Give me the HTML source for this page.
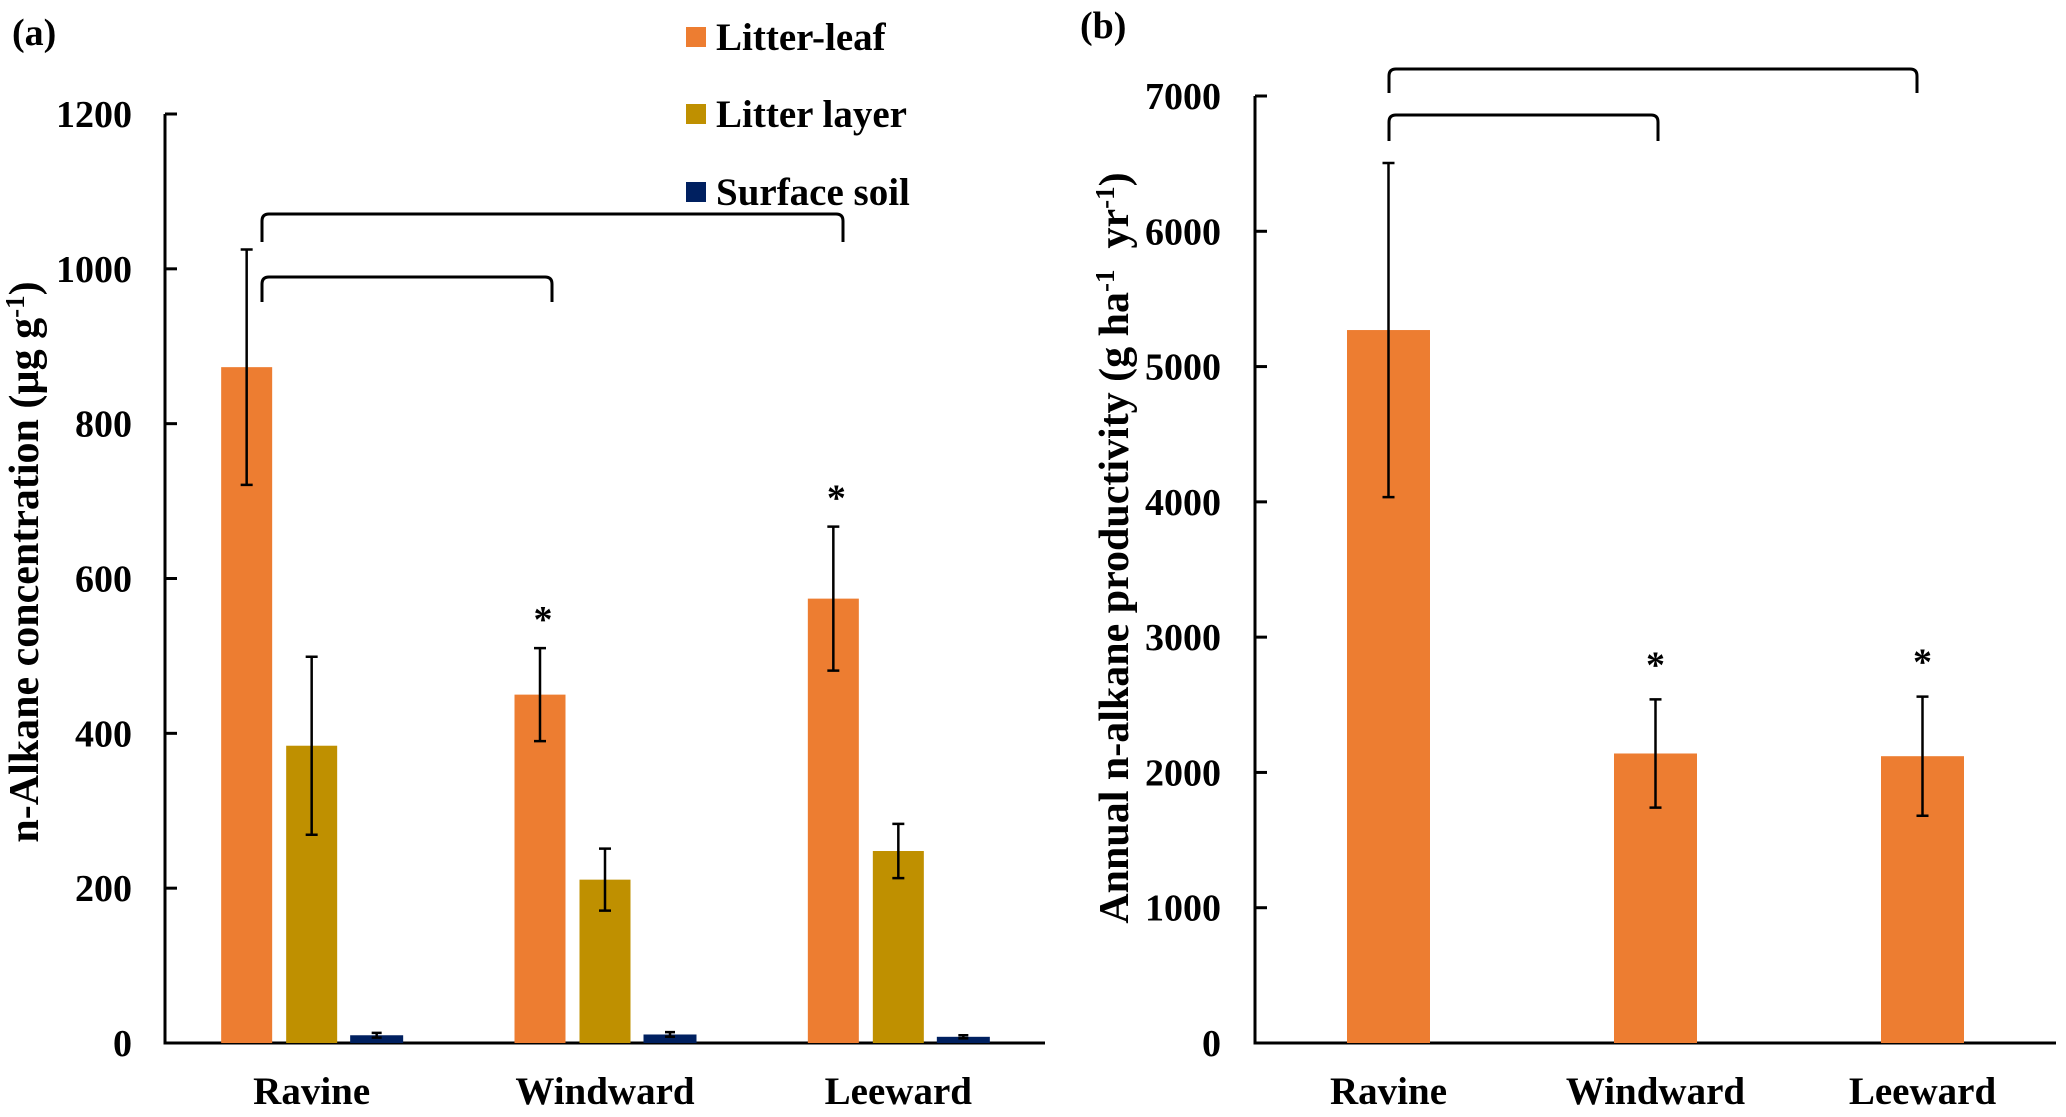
<!DOCTYPE html>
<html><head><meta charset="utf-8"><style>
body{margin:0;background:#fff}
svg{display:block;font-family:"Liberation Serif",serif;font-weight:bold}
</style></head><body>
<svg id="chart" width="2066" height="1117" viewBox="0 0 2066 1117" xmlns="http://www.w3.org/2000/svg">
<text x="12" y="45" font-size="38">(a)</text>
<text x="1080" y="38" font-size="38">(b)</text>
<g>
<g><rect x="686" y="27" width="20" height="20" fill="#ED7D31"/><text x="716" y="50" font-size="39">Litter-leaf</text></g>
<g><rect x="686" y="104" width="20" height="20" fill="#BF9000"/><text x="716" y="127" font-size="39">Litter layer</text></g>
<g><rect x="686" y="182" width="20" height="20" fill="#002060"/><text x="716" y="205" font-size="39">Surface soil</text></g>
</g>
<text transform="translate(38,562) rotate(-90)" text-anchor="middle" font-size="42">n-Alkane concentration (µg g<tspan dy="-14" font-size="27">-1</tspan><tspan dy="14">)</tspan></text>
<text transform="translate(1128,548) rotate(-90)" text-anchor="middle" font-size="42" xml:space="preserve">Annual n-alkane productivity (g ha<tspan dy="-14" font-size="27">-1</tspan><tspan dy="14">  yr</tspan><tspan dy="-14" font-size="27">-1</tspan><tspan dy="14">)</tspan></text>
<g id="gA"></g><g id="gB"></g>
<g fill="none" stroke="#000" stroke-width="3">
<path d="M262 242 V221 Q262 214 269 214 H836 Q843 214 843 221 V242"/>
<path d="M262 302 V284 Q262 277 269 277 H545 Q552 277 552 284 V302"/>
<path d="M1389 93 V76 Q1389 69 1396 69 H1910 Q1917 69 1917 76 V93"/>
<path d="M1389 141 V122 Q1389 115 1396 115 H1651 Q1658 115 1658 122 V141"/>
</g>
</svg>
<script>
const categories=["Ravine","Windward","Leeward"];
const leafVals=[873,450,574];
const leafErr=[152,60,93];
const layerVals=[384,211,248];
const layerErr=[115,40,35];
const soilVals=[10,11,8];
const soilErr=[3,3,2];
const leafSig=[false,true,true];
const ticksA=[0,200,400,600,800,1000,1200];
const prodVals=[5270,2140,2120];
const prodErr=[1235,400,440];
const prodSig=[false,true,true];
const ticksB=[0,1000,2000,3000,4000,5000,6000,7000];
const NS="http://www.w3.org/2000/svg";
function mk(p,t,a){const e=document.createElementNS(NS,t);for(const k in a)e.setAttribute(k,a[k]);p.appendChild(e);return e;}
function axes(g,x0,x1,y0,yTop,max,ticks,labX,nm){
 const y=v=>y0-(v/max)*(y0-yTop);
 const ax=mk(g,'path',{d:`M${x0} ${yTop} V${y0} H${x1}`,fill:'none',stroke:'#000','stroke-width':3});
 
 
 ticks.forEach(t=>{
  const l=mk(g,'line',{x1:x0,x2:x0+12,y1:y(t),y2:y(t),stroke:'#000','stroke-width':3});
  
  
  const tx=mk(g,'text',{x:labX,y:y(t)+13,'text-anchor':'end','font-size':38});
  tx.textContent=t;
  
  
 });
 const gw=(x1-x0)/categories.length;
 categories.forEach((c,i)=>{
  const tx=mk(g,'text',{x:x0+gw*(i+0.5),y:1104,'text-anchor':'middle','font-size':39});
  tx.textContent=c;
  
  
 });
 return {y,gw};
}
function bar(g,cx,w,v,e,y,color,nm,cap){
 const r=mk(g,'rect',{x:cx-w/2,y:y(v),width:w,height:y(0)-y(v),fill:color});
 
 
 const eb=mk(g,'path',{d:`M${cx} ${y(v+e)} V${y(v-e)} M${cx-cap} ${y(v+e)} H${cx+cap} M${cx-cap} ${y(v-e)} H${cx+cap}`,stroke:'#000','stroke-width':2.5,fill:'none'});
 
 
}
function star(g,x,yy,nm){
 const s=mk(g,'text',{x:x,y:yy,'text-anchor':'middle','font-size':38});
 s.textContent='*';
 
 
}
// Panel A
const gA=document.getElementById('gA');
const A=axes(gA,165,1045,1043,114,1200,ticksA,132,'panel-a');
categories.forEach((c,i)=>{
 const cx=165+A.gw*(i+0.5);
 bar(gA,cx-65,51,leafVals[i],leafErr[i],A.y,'#ED7D31','bar-litter-leaf-'+c.toLowerCase(),6);
 bar(gA,cx,51,layerVals[i],layerErr[i],A.y,'#BF9000','bar-litter-layer-'+c.toLowerCase(),6);
 bar(gA,cx+65,53,soilVals[i],soilErr[i],A.y,'#002060','bar-surface-soil-'+c.toLowerCase(),5);
 if(leafSig[i])star(gA,cx-65+3,A.y(leafVals[i]+leafErr[i])-16,'significance-star-a');
});
// Panel B
const gB=document.getElementById('gB');
const B=axes(gB,1255,2056,1043,96,7000,ticksB,1221,'panel-b');
categories.forEach((c,i)=>{
 const cx=1255+B.gw*(i+0.5);
 bar(gB,cx,83,prodVals[i],prodErr[i],B.y,'#ED7D31','bar-productivity-'+c.toLowerCase(),6);
 if(prodSig[i])star(gB,cx,B.y(prodVals[i]+prodErr[i])-22,'significance-star-b');
});
</script>
</body></html>
